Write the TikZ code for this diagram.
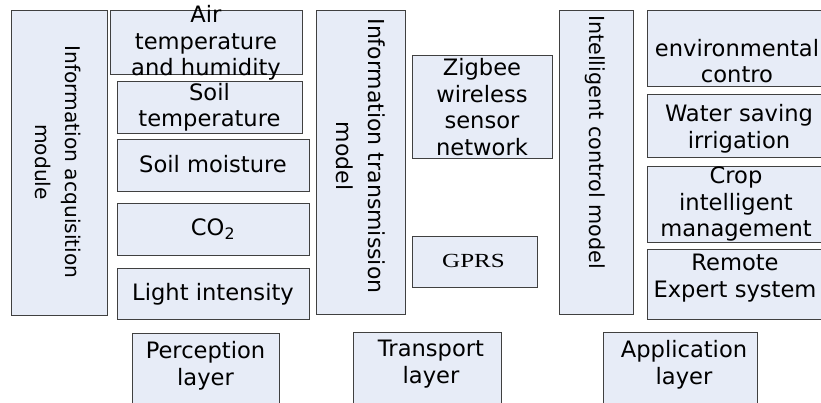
\documentclass[tikz,border=0pt]{standalone}
\usepackage{fontspec}
\setmainfont{DejaVu Sans}
\newfontfamily\gprsfont{Liberation Serif}
\usetikzlibrary{fit}
\definecolor{panelfill}{RGB}{231,236,247}
\definecolor{panelline}{RGB}{64,64,64}
\tikzset{
  panel/.style={draw=panelline, line width=0.9pt, fill=panelfill, inner sep=0pt},
  lbl/.style={font=\fontsize{22.6}{26.5}\selectfont, align=center, inner sep=0pt, text=black},
}
\begin{document}
\begin{tikzpicture}[x=1pt,y=-1pt]
\useasboundingbox (0,0) rectangle (821,402);
\clip (0,0) rectangle (821,402);
\fill[white] (0,0) rectangle (821,402);

% perception layer
\node[panel, fit={(11,10) (107,315)}] (acq) {};
\node[panel, fit={(110,10) (302,74)}] (air) {};
\node[panel, fit={(117,81) (302,133)}] (soilt) {};
\node[panel, fit={(117,139) (309,191)}] (soilm) {};
\node[panel, fit={(117,203) (309,255)}] (co2) {};
\node[panel, fit={(117,268) (309,319)}] (light) {};
\node[panel, fit={(132,333) (279,412)}] (percep) {};

% transport layer
\node[panel, fit={(316,10) (405,314)}] (trans) {};
\node[panel, fit={(412,55) (552,158)}] (zigbee) {};
\node[panel, fit={(412,236) (537,287)}] (gprs) {};
\node[panel, fit={(353,332) (501,412)}] (transp) {};

% application layer
\node[panel, fit={(559,10) (633,314)}] (ctrl) {};
\node[panel, fit={(647,10) (828,86)}] (env) {};
\node[panel, fit={(647,94) (828,157)}] (water) {};
\node[panel, fit={(647,166) (828,242)}] (crop) {};
\node[panel, fit={(647,249) (828,319)}] (remote) {};
\node[panel, fit={(603,332) (757,412)}] (appl) {};

% labels
\node[lbl, rotate=-90, font=\fontsize{20.2}{30}\selectfont] (acqt) at (58,162) {Information acquisition\\module};
\node[lbl] (airt) at (206,43) {Air\\temperature\\and humidity};
\node[lbl] (soiltt) at (209.5,107.5) {Soil\\temperature};
\node[lbl] (soilmt) at (213,164) {Soil moisture};
\node[lbl] (co2t) at (213,229) {CO\textsubscript{2}};
\node[lbl] (lightt) at (213,294.5) {Light intensity};
\node[lbl] (percept) at (205.5,366) {Perception\\layer};

\node[lbl, rotate=-90, font=\fontsize{22}{32}\selectfont] (transt) at (360.5,156) {Information transmission\\model};
\node[lbl] (zigbeet) at (482,107) {Zigbee\\wireless\\sensor\\network};
\node[lbl, font=\gprsfont\fontsize{20}{24}\selectfont] (gprst) at (473.5,260.5) {\scalebox{1.25}[1]{GPRS}};
\node[lbl] (transpt) at (431,364) {Transport\\layer};

\node[lbl, rotate=-90, font=\fontsize{20.7}{26}\selectfont] (ctrlt) at (595,142) {Intelligent control model};
\node[lbl] (envt) at (737,61) {environmental\\contro};
\node[lbl] (watert) at (739,129) {Water saving\\irrigation};
\node[lbl] (cropt) at (736,204) {Crop\\intelligent\\management};
\node[lbl] (remotet) at (735,278) {Remote\\Expert system};
\node[lbl] (applt) at (684,365) {Application\\layer};
\end{tikzpicture}
\end{document}
